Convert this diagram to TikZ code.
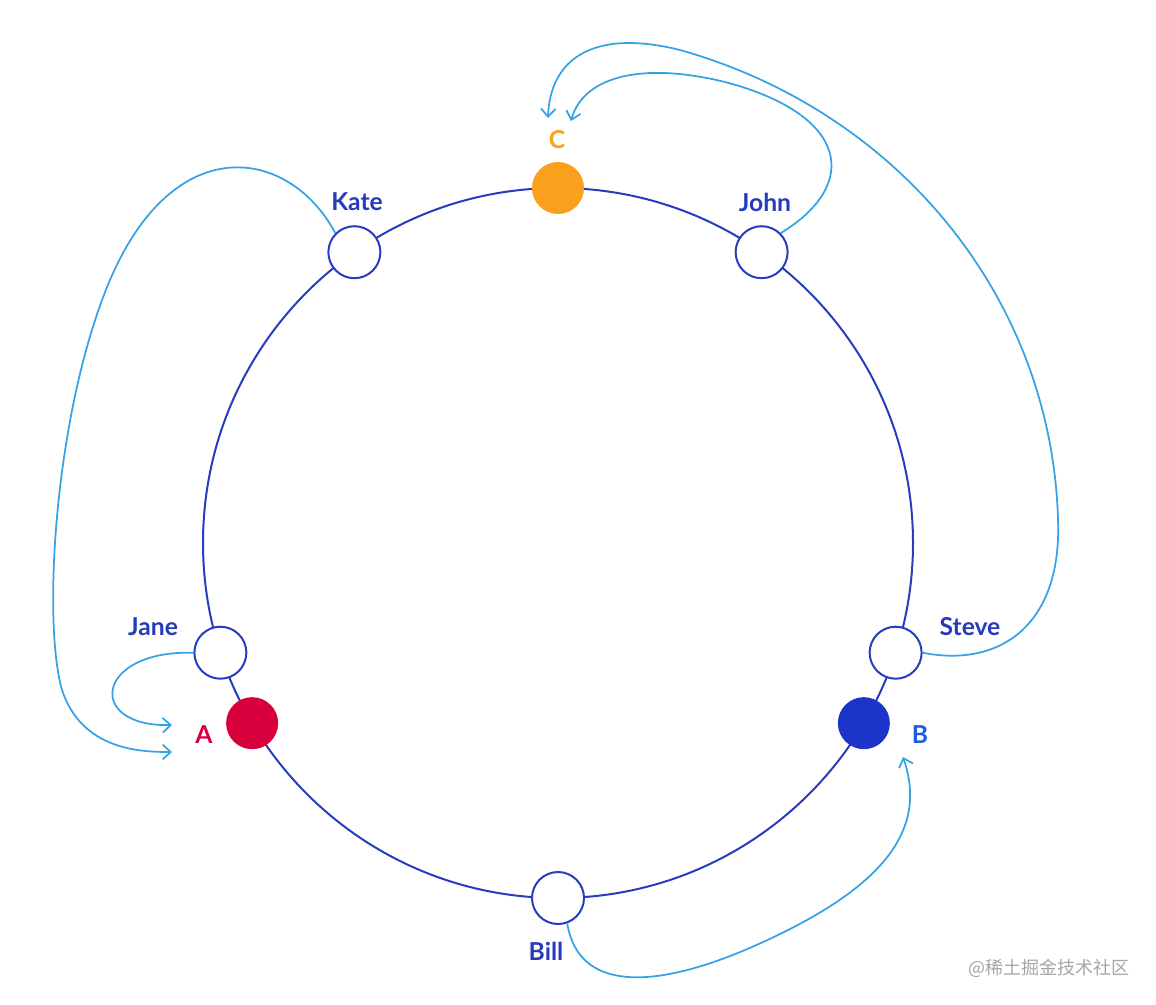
\documentclass[tikz,border=0pt]{standalone}
\usepackage{fontspec}
\setmainfont{Lato}
\newfontfamily\cjkfont{Noto Sans CJK SC}
\usetikzlibrary{arrows.meta,calc}
\definecolor{RingBlue}{RGB}{40,60,190}
\definecolor{NameBlue}{RGB}{38,58,188}
\definecolor{HopBlue}{RGB}{52,162,228}
\definecolor{KeyOrange}{RGB}{250,160,28}
\definecolor{KeyRed}{RGB}{215,0,60}
\definecolor{KeyBlue}{RGB}{28,52,200}
\definecolor{LabelBlue}{RGB}{30,90,230}
\definecolor{MarkGray}{RGB}{165,165,165}
\tikzset{
  server/.style={circle,draw=RingBlue,line width=1.5pt,fill=white,minimum size=39pt,inner sep=0pt},
  keydot/.style={circle,fill=#1,minimum size=39pt,inner sep=0pt},
  hosttext/.style={font=\bfseries\fontsize{18.5}{21}\selectfont,text=#1},
  hop/.style={HopBlue,line width=1.3pt,-{Straight Barb[length=6pt,width=11pt]}}
}

\begin{document}
\begin{tikzpicture}[x=0.75pt,y=-0.75pt]
  \useasboundingbox (0,0) rectangle (1156,1004);
  \coordinate (ctr) at (558,543);
  % the hash ring
  \draw[RingBlue,line width=1.5pt] (ctr) circle[radius=355];

  \node[keydot=KeyOrange] (C) at ($(ctr)+(270:355)$) {};
  \node[keydot=KeyRed] (A) at ($(ctr)+(149.5:355)$) {};
  \node[keydot=KeyBlue] (B) at ($(ctr)+(30.5:355)$) {};
  \node[server] (kate) at ($(ctr)+(235:355)$) {};
  \node[server] (john) at ($(ctr)+(305:355)$) {};
  \node[server] (jane) at ($(ctr)+(162:355)$) {};
  \node[server] (steve) at ($(ctr)+(18:355)$) {};
  \node[server] (bill) at ($(ctr)+(90:355)$) {};

  \node[hosttext=NameBlue] (kateT) at (357,202) {Kate};
  \node[hosttext=NameBlue] (johnT) at (765,202) {John};
  \node[hosttext=NameBlue] (janeT) at (153,627) {Jane};
  \node[hosttext=NameBlue] (steveT) at (970,627) {Steve};
  \node[hosttext=NameBlue] (billT) at (546,951) {Bill};
  \node[hosttext=KeyOrange] (cT) at (557,140) {C};
  \node[hosttext=KeyRed] (aT) at (204,735) {A};
  \node[hosttext=LabelBlue] (bT) at (920,735) {B};

  % where the arrows stop
  \coordinate (aIn1) at (172,752);
  \coordinate (aIn2) at (172,725);
  \coordinate (cIn1) at (548,118);
  \coordinate (cIn2) at (571,121);
  \coordinate (bIn) at (903,757);

  \draw[hop] (kate.north west) .. controls (290,148) and (175,128) .. (110,280)
    .. controls (55,410) and (42,620) .. (62,690)
    .. controls (82,750) and (140,752) .. (aIn1);
  \draw[hop] (jane.west) .. controls (95,650) and (85,727) .. (aIn2);
  \draw[hop] (john.north east) .. controls (860,185) and (850,115) .. (725,82)
    .. controls (635,60) and (582,80) .. (cIn2);
  \draw[hop] (steve.east) .. controls (1000,668) and (1062,625) .. (1058,520)
    .. controls (1052,300) and (900,112) .. (680,50)
    .. controls (592,28) and (550,60) .. (cIn1);
  \draw[hop] (bill.-70) .. controls (578,990) and (650,990) .. (745,950)
    .. controls (885,890) and (928,830) .. (bIn);

  \node[text=MarkGray,font=\cjkfont\fontsize{13.5}{16}\selectfont] (mark) at (1049,968) {@稀土掘金技术社区};
\end{tikzpicture}
\end{document}
